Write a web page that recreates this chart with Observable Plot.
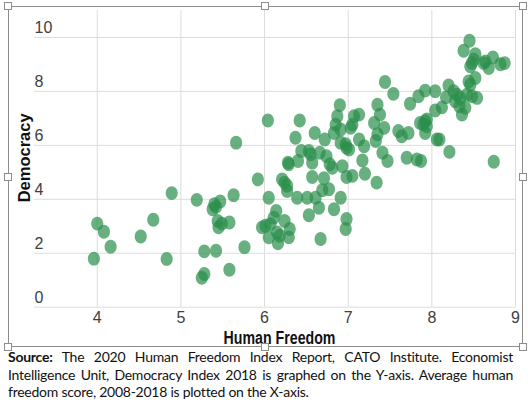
<!DOCTYPE html>
<html>
<head>
<meta charset="utf-8">
<script src="https://cdn.jsdelivr.net/npm/d3@7"></script>
<script src="https://cdn.jsdelivr.net/npm/@observablehq/plot@0.6"></script>
<style>
  html, body { margin: 0; padding: 0; background: #fff; }
  #wrap { position: relative; width: 528px; height: 407px; overflow: hidden; }
  #chart { position: absolute; left: 0; top: 0; }
  #border { position: absolute; left: 8px; top: 6px; width: 515px; height: 341px; border: 1.3px solid #8c8c8c; box-sizing: border-box; }
  .h { position: absolute; width: 6px; height: 6px; background: #fff; border: 1px solid #8c8c8c; }
  #caption { position: absolute; left: 8px; top: 348px; width: 505px; font-family: Lato, "Noto Sans", sans-serif; font-size: 14px; line-height: 17.5px; color: #111; letter-spacing: -0.25px; }
  #caption .j { text-align: justify; text-align-last: justify; white-space: nowrap; }
</style>
</head>
<body>
<div id="wrap">
  <div id="chart"></div>
  <div id="border"></div>
  <div id="caption"></div>
</div>
<script>
// Average human freedom score, 2008-2018 (X)
const humanFreedom = [
  4.00,4.08,4.16,3.96,4.52,4.67,4.83,4.89,5.19,5.40,5.47,5.38,5.42,5.63,5.44,5.49,5.58,5.45,5.28,5.42,5.76,5.58,5.28,5.25,5.66,5.92,
  6.04,6.42,6.90,6.87,6.85,6.91,6.83,6.37,6.60,6.72,6.91,6.98,6.44,6.53,6.55,6.66,6.74,6.78,6.81,6.28,6.29,6.40,6.57,6.93,
  6.21,6.27,6.27,6.24,6.57,6.71,6.69,6.77,6.98,6.05,6.39,6.51,6.61,6.91,6.65,6.53,6.83,6.14,6.11,6.24,6.01,5.97,6.07,6.30,
  6.15,6.18,6.05,6.29,6.16,6.67,6.97,6.98,
  7.44,7.54,7.35,7.38,7.13,7.07,7.05,7.03,7.31,7.43,7.35,7.33,6.97,7.01,7.13,7.19,7.60,7.64,7.72,7.41,7.47,7.17,7.20,7.05,
  7.34,7.70,7.82,7.87,7.74,7.84,7.92,8.04,7.86,7.92,7.94,7.92,8.04,8.06,
  8.45,8.38,8.52,8.48,8.50,8.46,8.64,8.73,8.68,8.82,8.87,8.62,8.44,8.46,8.52,8.54,8.48,8.42,8.20,8.26,8.30,8.34,8.28,8.33,
  8.36,8.40,8.17,8.12,7.94,7.90,8.09,8.21,8.74
];
// Democracy Index 2018 (Y)
const democracy = [
  3.10,2.80,2.24,1.80,2.62,3.24,1.79,4.23,3.98,3.82,3.92,3.63,3.72,4.15,3.20,3.10,3.14,2.96,2.07,2.09,2.22,1.39,1.23,1.09,6.10,4.74,
  6.92,6.92,7.49,7.08,6.77,6.59,6.46,6.28,6.46,6.22,6.10,5.91,5.79,5.79,5.67,5.73,5.60,5.30,5.17,5.36,5.30,5.42,5.36,5.23,
  4.74,4.50,4.31,4.62,4.83,4.78,4.34,4.37,4.83,4.06,4.06,4.06,4.06,4.06,3.69,3.41,3.63,3.57,3.32,3.20,3.02,2.96,3.08,2.90,
  2.77,2.65,2.59,2.59,2.37,2.53,2.90,3.27,
  8.35,7.91,7.51,7.14,7.14,7.08,6.77,6.65,6.83,6.65,6.41,6.16,6.04,5.85,6.22,5.97,6.53,6.34,6.46,5.73,5.42,5.44,4.95,4.87,
  4.62,5.54,5.48,5.42,7.54,7.82,8.03,8.01,6.83,6.90,6.71,6.46,7.29,6.22,
  9.88,9.51,9.38,9.05,9.18,8.93,9.11,9.26,8.87,9.01,9.05,9.05,8.37,8.25,8.50,7.76,7.82,7.88,8.22,8.01,7.88,7.76,7.64,7.45,
  7.14,7.39,7.78,7.41,6.96,6.77,6.22,5.76,5.39
];
const xTicks = [4, 5, 6, 7, 8, 9];
const yTicks = [0, 2, 4, 6, 8, 10];
const xTitle = "Human Freedom";
const yTitle = "Democracy";
const captionLines = [
  ["Source:", " The 2020 Human Freedom Index Report, CATO Institute. Economist"],
  ["", "Intelligence Unit, Democracy Index 2018 is graphed on the Y-axis. Average human"],
  ["", "freedom score, 2008-2018 is plotted on the X-axis."]
];

const data = humanFreedom.map((x, i) => ({x, y: democracy[i]}));

// slightly tall ellipse symbol, like the reference markers
const ellipse = {
  draw(ctx, size) {
    const r = Math.sqrt(size / Math.PI);
    const rx = r * 0.93, ry = r * 1.07, k = 0.5523;
    ctx.moveTo(rx, 0);
    ctx.bezierCurveTo(rx, k * ry, k * rx, ry, 0, ry);
    ctx.bezierCurveTo(-k * rx, ry, -rx, k * ry, -rx, 0);
    ctx.bezierCurveTo(-rx, -k * ry, -k * rx, -ry, 0, -ry);
    ctx.bezierCurveTo(k * rx, -ry, rx, -k * ry, rx, 0);
    ctx.closePath();
  }
};

const plot = Plot.plot({
  width: 528,
  height: 350,
  marginLeft: 34,
  marginRight: 13,
  marginTop: 10,
  marginBottom: 43.3,
  style: {fontFamily: "'Liberation Sans', Arial, sans-serif", background: "transparent"},
  x: {domain: [3.25, 9], axis: null},
  y: {domain: [0, 11], axis: null},
  marks: [
    Plot.gridX(xTicks, {stroke: "#dcdcdc", strokeOpacity: 1, strokeWidth: 1}),
    Plot.gridY(yTicks, {stroke: "#dcdcdc", strokeOpacity: 1, strokeWidth: 1}),
    Plot.text(yTicks, {y: d => d, text: d => String(d), frameAnchor: "left", textAnchor: "start", lineAnchor: "bottom", dy: -4, fontSize: 16, fill: "#404040"}),
    Plot.text(xTicks, {x: d => d, text: d => String(d), frameAnchor: "bottom", lineAnchor: "top", dy: 4, fontSize: 16, fill: "#404040"}),
    Plot.dot(data, {x: "x", y: "y", r: 6.5, symbol: ellipse, fill: "#2a8f4a", fillOpacity: 0.7, stroke: "none"}),
    Plot.text([xTitle], {text: d => d, frameAnchor: "bottom", lineAnchor: "bottom", dx: 4.5, dy: 36.6, fontSize: 18, fontWeight: "bold", fill: "#111", fontFamily: "'Liberation Sans Narrow', 'Arial Narrow', 'Liberation Sans', sans-serif"}),
    Plot.text([yTitle], {text: d => d, frameAnchor: "left", textAnchor: "middle", rotate: -90, lineAnchor: "bottom", dx: -5, dy: -1, fontSize: 16.5, fontWeight: "bold", fill: "#111", fontFamily: "'Liberation Sans', Arial, sans-serif"})
  ]
});
document.getElementById("chart").appendChild(plot);

// fit the x-axis title to the reference's measured width
plot.querySelectorAll("text").forEach(t => {
  if (t.textContent === xTitle) { t.setAttribute("textLength", 112); t.setAttribute("lengthAdjust", "spacingAndGlyphs"); }
});

// selection handles on the chart frame
const wrap = document.getElementById("wrap");
[[8,6],[265,6],[523,6],[8,177],[523,177],[8,347],[265,347],[523,347]].forEach(([cx, cy]) => {
  const h = document.createElement("div");
  h.className = "h";
  h.style.left = (cx - 4) + "px";
  h.style.top = (cy - 4) + "px";
  wrap.appendChild(h);
});

// caption
const cap = document.getElementById("caption");
captionLines.forEach((ln, i) => {
  const d = document.createElement("div");
  if (i < 2) d.className = "j";
  if (ln[0]) { const b = document.createElement("b"); b.textContent = ln[0]; d.appendChild(b); }
  d.appendChild(document.createTextNode(ln[1]));
  cap.appendChild(d);
});
</script>
</body>
</html>
